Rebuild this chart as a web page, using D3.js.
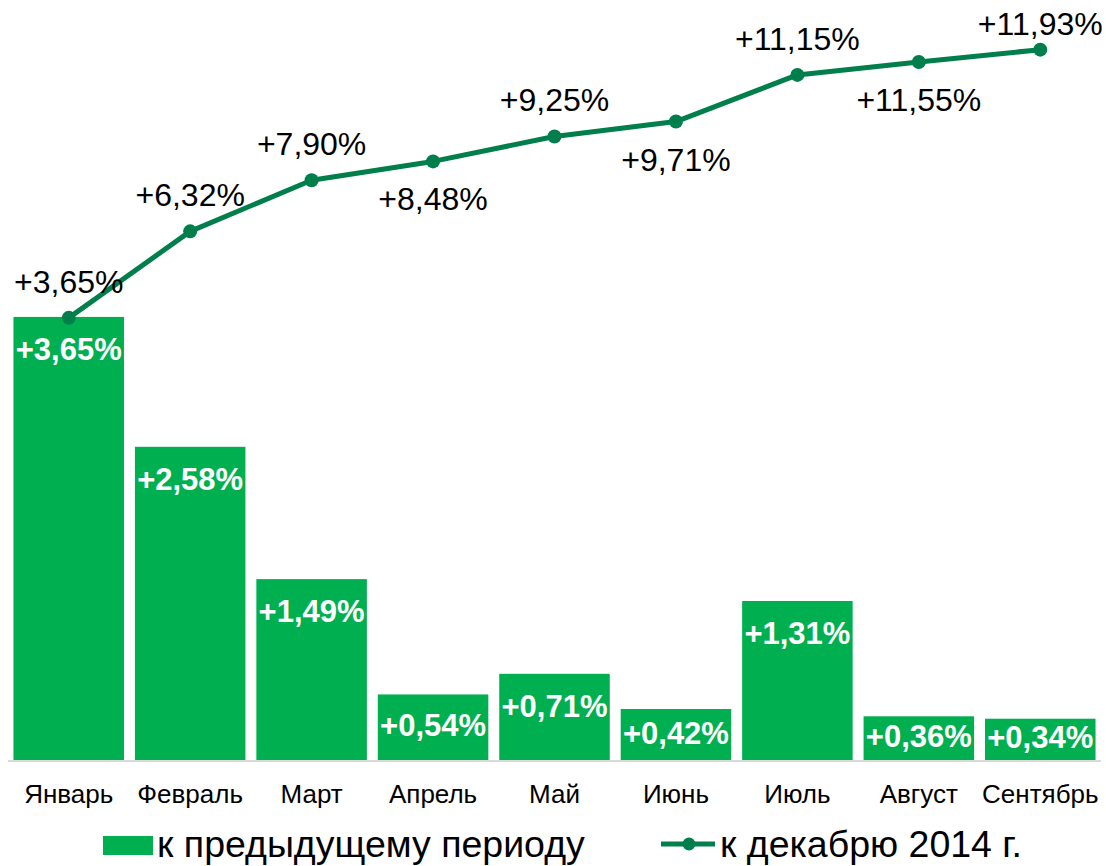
<!DOCTYPE html>
<html>
<head>
<meta charset="utf-8">
<script src="https://cdn.jsdelivr.net/npm/d3@7"></script>
<style>
  body { margin: 0; background: #fff; }
  text { font-family: "Liberation Sans", Arial, sans-serif; }
</style>
</head>
<body>
<div id="container"></div>
<script>
/* chart data */
var months = ["Январь", "Февраль", "Март", "Апрель", "Май", "Июнь", "Июль", "Август", "Сентябрь"]
var prevPeriod = [3.65, 2.58, 1.49, 0.54, 0.71, 0.42, 1.31, 0.36, 0.34]
var toDec2014 = [3.65, 6.32, 7.90, 8.48, 9.25, 9.71, 11.15, 11.55, 11.93]
var seriesNames = ["к предыдущему периоду", "к декабрю 2014 г."]

/* where each line label sits */
var lineLabelPos = ["above", "above", "above", "below", "above", "below", "above", "below", "above"]

var barColor = "#00b050",
    lineColor = "#007f4d"

var width = 1106, height = 866
var plot = { left: 8, right: 1101, top: 15, bottom: 760 }

var fmt = function(v) { return "+" + v.toFixed(2).replace(".", ",") + "%" }

var svg = d3.select("#container")
            .append("svg")
            .attr("width", width)
            .attr("height", height)

var x = d3.scaleBand()
          .domain(months)
          .range([plot.left, plot.right])
          .paddingInner(0.09)
          .paddingOuter(0.045)

/* primary axis for bars, secondary for the line */
var y = d3.scaleLinear()
          .domain([0, 6.137])
          .range([plot.bottom, plot.top])

var y2 = d3.scaleLinear()
           .domain([-10, 13])
           .range([plot.bottom, plot.top])

/* bars */
svg.selectAll(".bar")
   .data(prevPeriod)
   .enter().append("rect")
     .attr("class", "bar")
     .attr("x", function(d, i) { return x(months[i]) })
     .attr("y", function(d) { return y(d) })
     .attr("width", x.bandwidth())
     .attr("height", function(d) { return y(0) - y(d) })
     .attr("fill", barColor)

/* category axis */
var xAxis = svg.append("g")
   .attr("transform", "translate(0," + plot.bottom + ")")
   .call(d3.axisBottom(x).tickSize(0).tickPadding(0))
xAxis.select(".domain").attr("stroke", "#d9d9d9").attr("stroke-width", 2)
     .attr("d", "M" + plot.left + ",1H" + plot.right)
xAxis.selectAll("text")
     .attr("dy", null)
     .attr("y", 43)
     .attr("font-size", 26)
     .attr("font-family", "Liberation Sans, Arial, sans-serif")
     .attr("fill", "#000")

/* bar labels */
svg.selectAll(".bar-label")
   .data(prevPeriod)
   .enter().append("text")
     .attr("class", "bar-label")
     .attr("x", function(d, i) { return x(months[i]) + x.bandwidth() / 2 })
     .attr("y", function(d) {
       var top = y(d)
       return Math.min(top + 32, (top + y(0)) / 2 - 2) + 11
     })
     .attr("text-anchor", "middle")
     .attr("font-size", 31)
     .attr("font-weight", "bold")
     .attr("fill", "#fff")
     .text(fmt)

/* cumulative line */
var cx = function(d, i) { return x(months[i]) + x.bandwidth() / 2 }
var line = d3.line()
             .x(cx)
             .y(function(d) { return y2(d) })

svg.append("path")
   .datum(toDec2014)
   .attr("d", line)
   .attr("fill", "none")
   .attr("stroke", lineColor)
   .attr("stroke-width", 5)
   .attr("stroke-linejoin", "round")

svg.selectAll(".dot")
   .data(toDec2014)
   .enter().append("circle")
     .attr("class", "dot")
     .attr("cx", cx)
     .attr("cy", function(d) { return y2(d) })
     .attr("r", 7)
     .attr("fill", lineColor)

svg.selectAll(".line-label")
   .data(toDec2014)
   .enter().append("text")
     .attr("class", "line-label")
     .attr("x", cx)
     .attr("y", function(d, i) {
       var py = y2(d)
       if (lineLabelPos[i] == "below") return py + 49
       return Math.max(py - 25, 35)
     })
     .attr("text-anchor", "middle")
     .attr("font-size", 32)
     .attr("fill", "#000")
     .text(fmt)

/* legend */
var legend = svg.append("g")

legend.append("rect")
      .attr("x", 103).attr("y", 836)
      .attr("width", 50).attr("height", 19)
      .attr("fill", barColor)
legend.append("text")
      .attr("x", 157).attr("y", 857)
      .attr("font-size", 37.5)
      .text(seriesNames[0])

legend.append("line")
      .attr("x1", 661).attr("x2", 715)
      .attr("y1", 844).attr("y2", 844)
      .attr("stroke", lineColor)
      .attr("stroke-width", 5)
legend.append("circle")
      .attr("cx", 689).attr("cy", 844).attr("r", 6.5)
      .attr("fill", lineColor)
legend.append("text")
      .attr("x", 720).attr("y", 857)
      .attr("font-size", 37.5)
      .text(seriesNames[1])
</script>
</body>
</html>
